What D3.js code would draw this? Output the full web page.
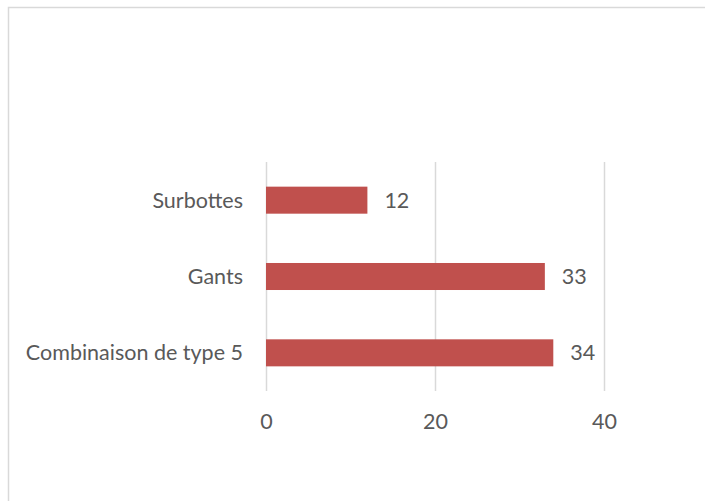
<!DOCTYPE html>
<html>
<head>
<meta charset="utf-8">
<script src="https://cdn.jsdelivr.net/npm/d3@7"></script>
<style>
  html, body { margin: 0; padding: 0; background: #fff; }
  svg { display: block; }
  text { font-family: Lato, "Open Sans", sans-serif; fill: #595959; }
</style>
</head>
<body>
<svg id="chart" width="705" height="501"></svg>
<script>
const categories = ["Surbottes", "Gants", "Combinaison de type 5"];
const values = [12, 33, 34];
const tickValues = [0, 20, 40];

const svg = d3.select("#chart");
const fontSize = 21.5;

// outer chart border (cropped at right/bottom)
svg.append("rect")
  .attr("x", 8.5).attr("y", 7.5)
  .attr("width", 760).attr("height", 560)
  .attr("fill", "none").attr("stroke", "#d9d9d9").attr("stroke-width", 1.5);

const x = d3.scaleLinear().domain([0, 40]).range([266, 604]);
const y = d3.scaleBand().domain(categories)
  .range([162, 391]).paddingInner(0.646).paddingOuter(0.323);

// gridlines + tick labels
const xAxis = d3.axisBottom(x).tickValues(tickValues).tickSize(-(391 - 162)).tickPadding(23);
const gx = svg.append("g").attr("transform", "translate(0,391)").call(xAxis);
gx.select(".domain").remove();
gx.selectAll(".tick line").attr("stroke", "#d9d9d9").attr("stroke-width", 1.5);
gx.selectAll(".tick text")
  .attr("fill", "#595959").attr("font-size", fontSize)
  .style("font-family", "Lato, 'Open Sans', sans-serif");

// bars
svg.append("g").selectAll("rect")
  .data(categories)
  .join("rect")
  .attr("x", x(0))
  .attr("y", d => y(d))
  .attr("width", (d, i) => x(values[i]) - x(0))
  .attr("height", y.bandwidth())
  .attr("fill", "#c0504d");

// category labels
svg.append("g").selectAll("text")
  .data(categories)
  .join("text")
  .attr("x", x(0) - 23)
  .attr("y", d => y(d) + y.bandwidth() / 2)
  .attr("dy", "0.35em")
  .attr("text-anchor", "end")
  .attr("font-size", fontSize)
  .text(d => d);

// value labels
svg.append("g").selectAll("text")
  .data(categories)
  .join("text")
  .attr("x", (d, i) => x(values[i]) + 17)
  .attr("y", d => y(d) + y.bandwidth() / 2)
  .attr("dy", "0.35em")
  .attr("font-size", fontSize)
  .text((d, i) => values[i]);
</script>
</body>
</html>
